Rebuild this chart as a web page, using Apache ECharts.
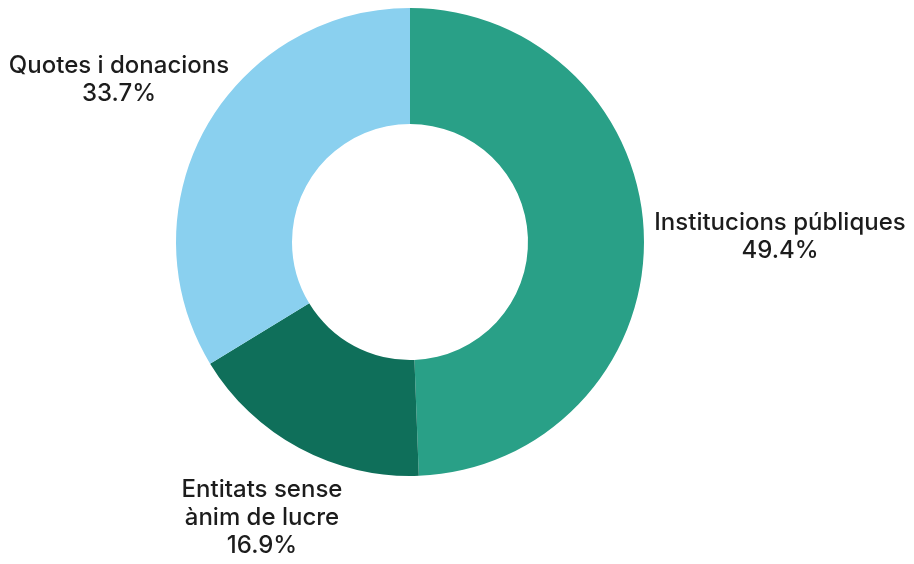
<!DOCTYPE html>
<html>
<head>
<meta charset="utf-8">
<script src="https://cdn.jsdelivr.net/npm/echarts@6/dist/echarts.min.js"></script>
<style>
  html, body { margin: 0; padding: 0; background: #fff; }
  #chart { width: 914px; height: 564px; }
</style>
</head>
<body>
<div id="chart"></div>
<script>
// dades
const categories = ["Institucions públiques", "Entitats sense\nànim de lucre", "Quotes i donacions"];
const values = [49.4, 16.9, 33.7];
const colors = ["#29a087", "#0f6f5a", "#8ad0ef"];

// posició de les etiquetes (centre del bloc de text)
const labelPos = [[780, 237], [262, 518], [119, 80]];

const chart = echarts.init(document.getElementById("chart"));

chart.setOption({
  animation: false,
  series: [
    {
      type: "pie",
      center: [410, 242],
      radius: [118, 234],
      startAngle: 90,
      clockwise: true,
      data: categories.map((name, i) => ({
        name: name,
        value: values[i],
        itemStyle: { color: colors[i] }
      })),
      label: {
        show: true,
        position: "outside",
        overflow: "none",
        formatter: (p) => p.name + "\n" + p.value.toFixed(1) + "%",
        fontFamily: "Inter",
        fontWeight: 500,
        fontSize: 24,
        lineHeight: 28,
        color: "#1c1c1c",
        align: "center"
      },
      labelLine: { show: false },
      labelLayout: (params) => ({
        x: labelPos[params.dataIndex][0],
        y: labelPos[params.dataIndex][1],
        align: "center",
        verticalAlign: "middle"
      })
    }
  ]
});
</script>
</body>
</html>
